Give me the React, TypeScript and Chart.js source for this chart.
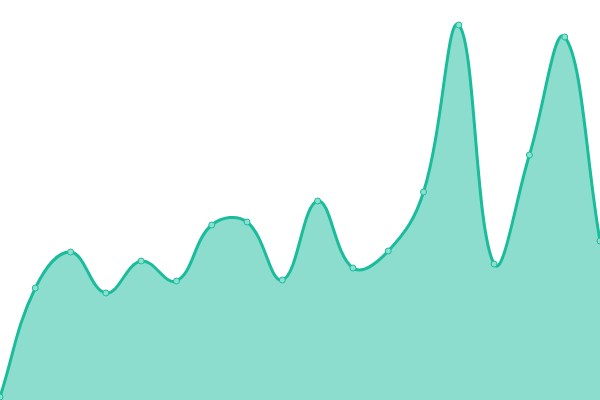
import React, { useEffect, useRef } from 'react';
import { Chart, ChartConfiguration, registerables } from 'chart.js';

Chart.register(...registerables);

const labels: string[] = [
  'P1', 'P2', 'P3', 'P4', 'P5', 'P6', 'P7', 'P8', 'P9',
  'P10', 'P11', 'P12', 'P13', 'P14', 'P15', 'P16', 'P17', 'P18',
];

const values: number[] = [
  0.75, 28, 37, 26.75, 34.75, 29.75, 43.75, 44.5, 30,
  49.75, 33, 37.25, 52, 93.75, 34, 61.25, 90.75, 39.75,
];

const yMin = 0;
const yMax = 100;

const App: React.FC = () => {
  const canvasRef = useRef<HTMLCanvasElement>(null);
  const chartRef = useRef<Chart | null>(null);

  useEffect(() => {
    if (!canvasRef.current) return;
    if (chartRef.current) chartRef.current.destroy();

    const ctx = canvasRef.current.getContext('2d');
    if (!ctx) return;

    const config: ChartConfiguration = {
      type: 'line',
      data: {
        labels: labels,
        datasets: [
          {
            label: 'Series',
            data: values,
            borderColor: '#1abc9c',
            backgroundColor: 'rgba(26, 188, 156, 0.5)',
            borderWidth: 3,
            fill: 'origin',
            tension: 0.4,
            pointRadius: 3,
            pointBorderWidth: 1,
            pointBackgroundColor: '#8ce0cf',
            pointBorderColor: '#1abc9c',
          },
        ],
      },
      options: {
        responsive: true,
        maintainAspectRatio: false,
        animation: false,
        layout: { padding: 0, autoPadding: false },
        scales: {
          x: { display: false },
          y: { display: false, min: yMin, max: yMax },
        },
        plugins: {
          legend: { display: false },
          tooltip: { enabled: false },
        },
      },
    };
    chartRef.current = new Chart(ctx, config);

    return () => {
      if (chartRef.current) {
        chartRef.current.destroy();
        chartRef.current = null;
      }
    };
  }, []);

  return (
    <div style={{ position: 'absolute', left: 0, top: 0, width: 600, height: 400 }}>
      <canvas ref={canvasRef}></canvas>
    </div>
  );
};

export default App;
